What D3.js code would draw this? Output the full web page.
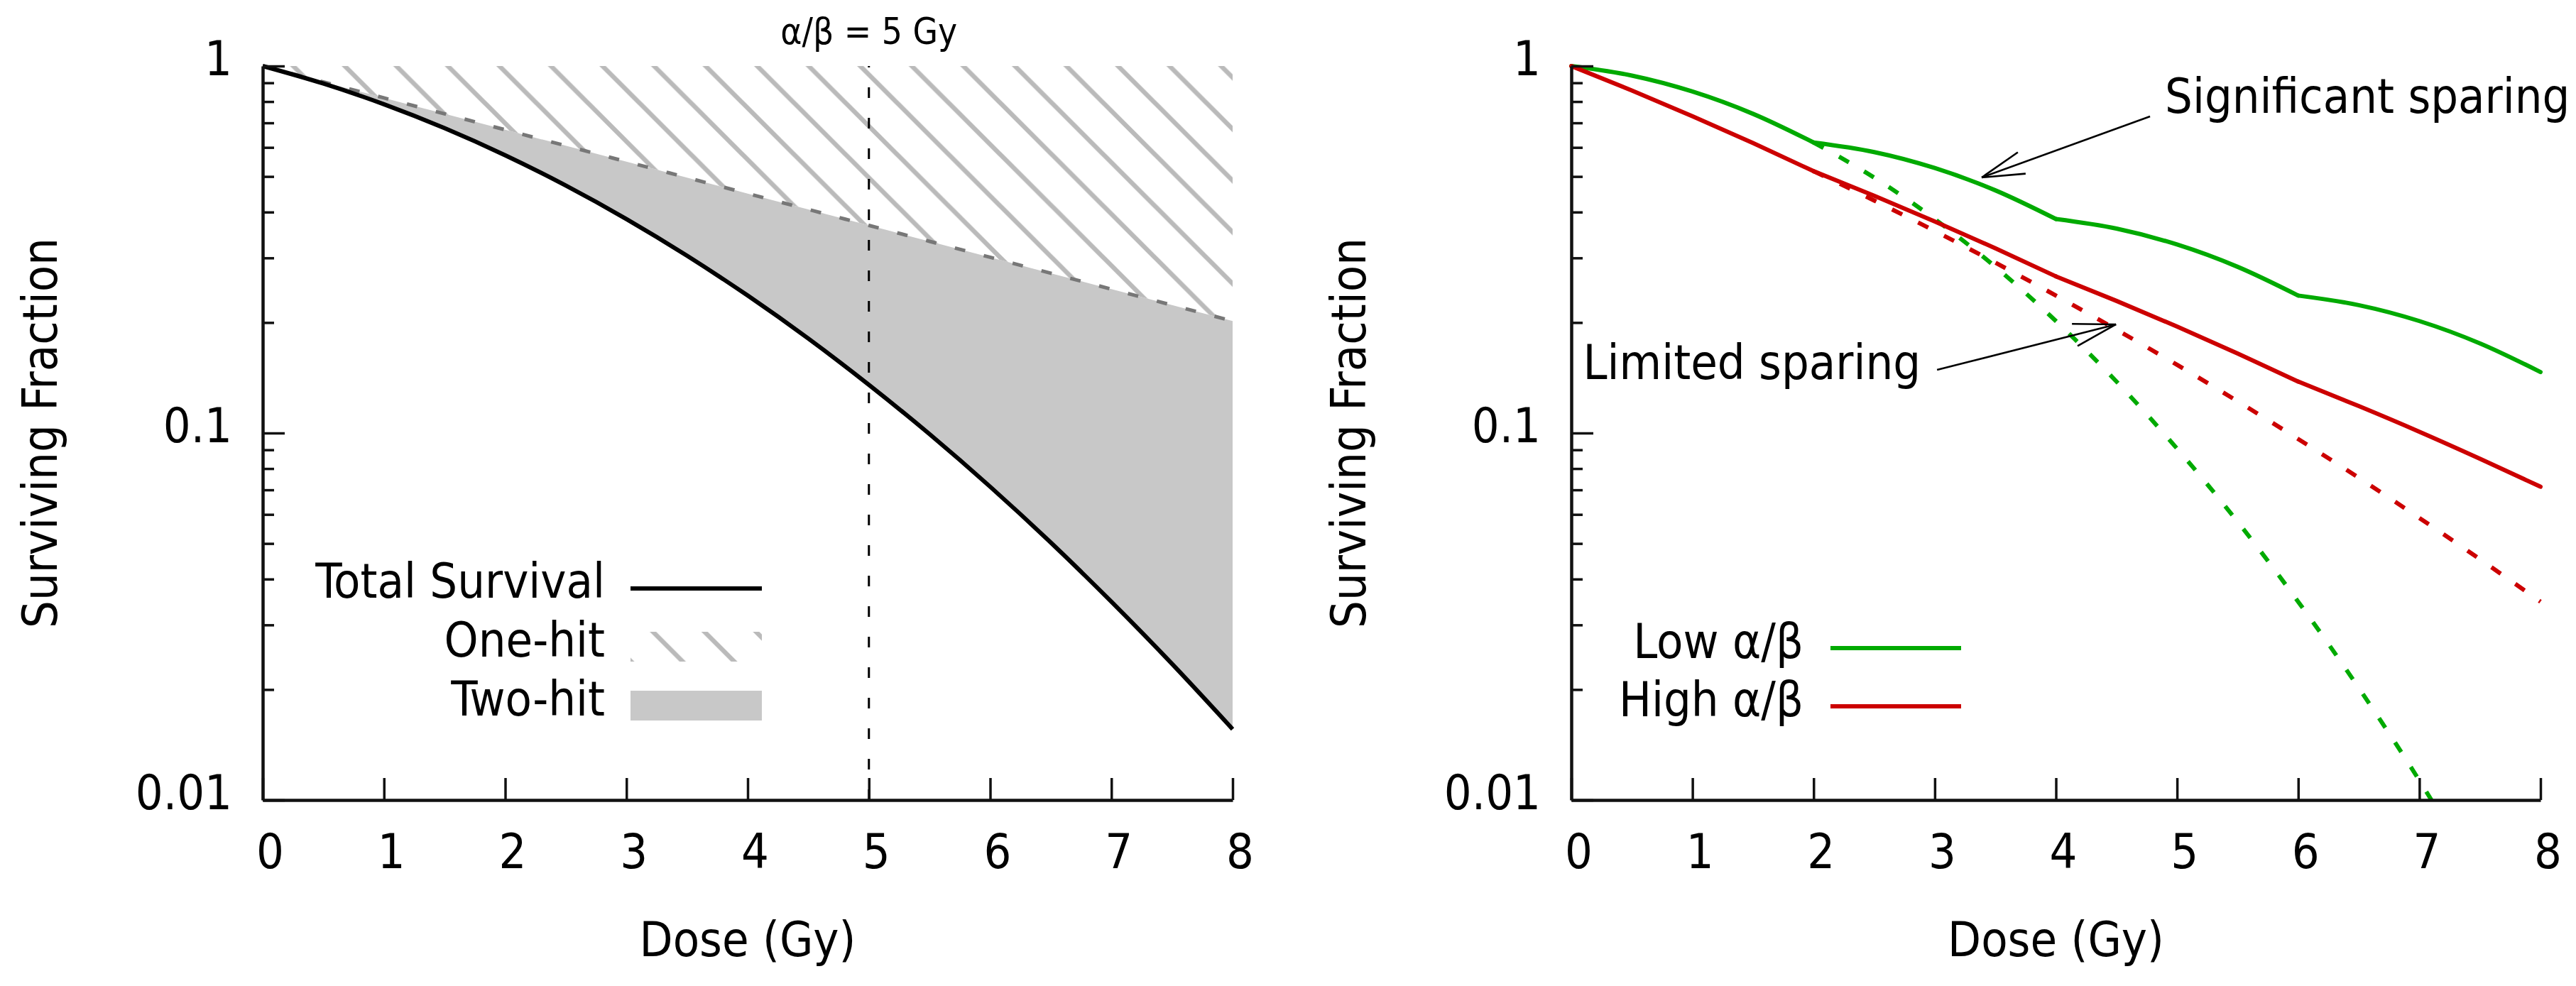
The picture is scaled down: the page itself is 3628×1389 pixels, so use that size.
<!DOCTYPE html>
<html><head><meta charset="utf-8">
<script src="https://cdn.jsdelivr.net/npm/d3@7"></script>
<style>
html,body{margin:0;padding:0;background:#fff;}
svg text{font-family:'DejaVu Sans Condensed','DejaVu Sans',sans-serif;font-stretch:condensed;fill:#000;}
</style></head><body>
<svg id="chart" width="3628" height="1389"></svg>
<script>
// ---------- data ----------
const doseTicks = [0,1,2,3,4,5,6,7,8];
const sfMajorTicks = [0.01,0.1,1];
const sfMajorLabels = ["0.01","0.1","1"];
const sfMinorTicks = [0.02,0.03,0.04,0.05,0.06,0.07,0.08,0.09,0.2,0.3,0.4,0.5,0.6,0.7,0.8,0.9];

// left panel (alpha/beta = 5 Gy)
const doseLeft = [0,0.5,1,1.5,2,2.5,3,3.5,4,4.5,5,5.5,6,6.5,7,7.5,8];
const totalSurvival = [1,0.8958,0.7866,0.6771,0.5712,0.4724,0.3829,0.3042,0.2369,0.1809,0.1353,0.0993,0.0714,0.0503,0.0347,0.0235,0.0156];
const oneHit = [1,0.9048,0.8187,0.7408,0.6703,0.6065,0.5488,0.4966,0.4493,0.4066,0.3679,0.3329,0.3012,0.2725,0.2466,0.2231,0.2019];
const alphaBetaDose = 5;
const leftLegend = ["Total Survival","One-hit","Two-hit"];

// right panel
const doseFrac = [0,0.5,1,1.5,2,2.5,3,3.5,4,4.5,5,5.5,6,6.5,7,7.5,8];
const lowFrac  = [1,0.9418,0.8521,0.7408,0.6188,0.5828,0.5273,0.4584,0.3829,0.3606,0.3263,0.2837,0.2369,0.2231,0.2019,0.1755,0.1466];
const highFrac = [1,0.8575,0.7298,0.6165,0.5169,0.4432,0.3772,0.3187,0.2672,0.2291,0.1950,0.1647,0.1381,0.1184,0.1008,0.0851,0.0714];
const doseSingleLow = [2,2.5,3,3.5,4,4.5,5,5.5,6,6.5,7,7.1];
const lowSingle = [0.6188,0.4966,0.3829,0.2837,0.2019,0.1381,0.0907,0.0573,0.0347,0.0202,0.0113,0.0100];
const doseSingleHigh = [2,2.5,3,3.5,4,4.5,5,5.5,6,6.5,7,7.5,8];
const highSingle = [0.5169,0.4301,0.3552,0.2912,0.2369,0.1913,0.1534,0.1220,0.0963,0.0755,0.0587,0.0453,0.0347];
const fractionBreaks = [2,4,6];
const rightLegend = ["Low α/β","High α/β"];

// ---------- layout / style ----------
const FS = 68;
const svg = d3.select("#chart");
svg.append("rect").attr("width",3628).attr("height",1389).attr("fill","#fff");
const yRange = [1127, 93];
const xL = d3.scaleLinear().domain([0,8]).range([370,1736]);
const xR = d3.scaleLinear().domain([0,8]).range([2213,3578]);
const yL = d3.scaleLog().domain([0.01,1]).range(yRange);
const yR = d3.scaleLog().domain([0.01,1]).range(yRange);

const GREEN = "#00aa00", RED = "#cc0000", FILL = "#c8c8c8", HATCH = "#bababa";

// hatch pattern
const W = 72.6;
const defs = svg.append("defs");
const pat = defs.append("pattern").attr("id","hatch").attr("patternUnits","userSpaceOnUse")
  .attr("x",29.6).attr("y",0).attr("width",W).attr("height",W);
pat.append("path")
  .attr("d",`M-10,-10L${W+10},${W+10}M${W-10},-10L${W+10},10M-10,${W-10}L10,${W+10}`)
  .attr("stroke",HATCH).attr("stroke-width",6.5).attr("fill","none");

function drawAxes(x, y){
  const g = svg.append("g");
  const xa = g.append("g").attr("transform",`translate(0,${y.range()[0]})`)
    .call(d3.axisBottom(x).tickValues(doseTicks).tickSize(-31).tickSizeOuter(0).tickPadding(48).tickFormat(d3.format("d")));
  const ya = g.append("g").attr("transform",`translate(${x.range()[0]},0)`)
    .call(d3.axisLeft(y).tickValues(sfMajorTicks).tickSize(-31).tickSizeOuter(0).tickPadding(43).tickFormat((d,i)=>sfMajorLabels[i]));
  const ym = g.append("g").attr("transform",`translate(${x.range()[0]},0)`)
    .call(d3.axisLeft(y).tickValues(sfMinorTicks).tickSize(-16).tickSizeOuter(0).tickFormat(""));
  ym.select(".domain").remove();
  [xa,ya,ym].forEach(a=>{
    a.attr("font-family",null).attr("font-size",null);
    a.select(".domain").attr("stroke","#111").attr("stroke-width",4.5);
    a.selectAll(".tick line").attr("stroke","#111").attr("stroke-width",3.5);
    a.selectAll(".tick text").attr("font-size",FS).attr("fill","#000");
  });
  xa.selectAll(".tick text").attr("dx",10);
  ya.selectAll(".tick text").attr("y",-9);
  // axis titles
  svg.append("text").attr("x",(x.range()[0]+x.range()[1])/2).attr("y",1347)
    .attr("text-anchor","middle").attr("font-size",FS).text("Dose (Gy)");
  svg.append("text").attr("transform",`translate(${x.range()[0]-290},${(y.range()[0]+y.range()[1])/2}) rotate(-90)`)
    .attr("text-anchor","middle").attr("font-size",FS).text("Surviving Fraction");
}

// ---------- left panel ----------
const leftPts = doseLeft.map((d,i)=>({d, t: totalSurvival[i], o: oneHit[i]}));
svg.append("path").datum(leftPts)
  .attr("d", d3.area().x(p=>xL(p.d)).y0(p=>yL(p.o)).y1(p=>yL(p.t)).curve(d3.curveMonotoneX))
  .attr("fill",FILL);
svg.append("path").datum(leftPts)
  .attr("d", d3.area().x(p=>xL(p.d)).y0(()=>yL(1)).y1(p=>yL(p.o)).curve(d3.curveMonotoneX))
  .attr("fill","url(#hatch)");
svg.append("path").datum(leftPts)
  .attr("d", d3.line().x(p=>xL(p.d)).y(p=>yL(p.o)).curve(d3.curveMonotoneX))
  .attr("fill","none").attr("stroke","#777").attr("stroke-width",5).attr("stroke-dasharray","15,27");
svg.append("path").datum(leftPts)
  .attr("d", d3.line().x(p=>xL(p.d)).y(p=>yL(p.t)).curve(d3.curveMonotoneX))
  .attr("fill","none").attr("stroke","#000").attr("stroke-width",6);
// alpha/beta marker
svg.append("line").attr("x1",xL(alphaBetaDose)).attr("x2",xL(alphaBetaDose))
  .attr("y1",yL(0.01)).attr("y2",yL(1))
  .attr("stroke","#000").attr("stroke-width",3).attr("stroke-dasharray","15,28");
svg.append("text").attr("x",xL(alphaBetaDose)).attr("y",62).attr("text-anchor","middle")
  .attr("font-size",51).text(`α/β = ${alphaBetaDose} Gy`);
drawAxes(xL,yL);

// left legend
const lgL = svg.append("g");
const lgBase = [842,925,1008];
leftLegend.forEach((t,i)=>{
  lgL.append("text").attr("x",852).attr("y",lgBase[i]).attr("text-anchor","end").attr("font-size",FS).text(t);
});
lgL.append("line").attr("x1",888).attr("x2",1073).attr("y1",lgBase[0]-13).attr("y2",lgBase[0]-13)
  .attr("stroke","#000").attr("stroke-width",6);
lgL.append("rect").attr("x",888).attr("y",lgBase[1]-35).attr("width",185).attr("height",42).attr("fill","url(#hatch)");
lgL.append("rect").attr("x",888).attr("y",lgBase[2]-35).attr("width",185).attr("height",42).attr("fill",FILL);

// ---------- right panel ----------
function segments(doses, vals, breaks){
  const edges = [d3.min(doses), ...breaks, d3.max(doses)];
  const pts = doses.map((d,i)=>({d, v: vals[i]}));
  return d3.pairs(edges).map(([a,b])=>pts.filter(p=>p.d>=a && p.d<=b));
}
const lineR = d3.line().x(p=>xR(p.d)).y(p=>yR(p.v)).curve(d3.curveMonotoneX);
const single = (doses, vals)=>doses.map((d,i)=>({d, v: vals[i]}));

svg.append("path").datum(single(doseSingleHigh, highSingle)).attr("d",lineR)
  .attr("fill","none").attr("stroke",RED).attr("stroke-width",6).attr("stroke-dasharray","16,25");
svg.append("path").datum(single(doseSingleLow, lowSingle)).attr("d",lineR)
  .attr("fill","none").attr("stroke",GREEN).attr("stroke-width",6).attr("stroke-dasharray","16,25");
[[lowFrac,GREEN],[highFrac,RED]].forEach(([vals,col])=>{
  segments(doseFrac, vals, fractionBreaks).forEach(seg=>{
    svg.append("path").datum(seg).attr("d",lineR).attr("fill","none")
      .attr("stroke",col).attr("stroke-width",6).attr("stroke-linecap","round");
  });
});
drawAxes(xR,yR);

// right legend
const lgR = svg.append("g");
const lgRBase = [927,1009];
[[rightLegend[0],GREEN],[rightLegend[1],RED]].forEach(([t,c],i)=>{
  lgR.append("text").attr("x",2540).attr("y",lgRBase[i]).attr("text-anchor","end").attr("font-size",FS).text(t);
  lgR.append("line").attr("x1",2578).attr("x2",2762).attr("y1",lgRBase[i]-14).attr("y2",lgRBase[i]-14)
    .attr("stroke",c).attr("stroke-width",6);
});

// annotations (positions in data units)
const annotations = [
  {text:"Significant sparing", at:[4.90,0.745], anchor:"start", from:[4.777,0.729], to:[3.388,0.497]},
  {text:"Limited sparing", at:[2.884,0.1403], anchor:"end", from:[3.019,0.1486], to:[4.496,0.1977]}
];
annotations.forEach(a=>{
  svg.append("text").attr("x",xR(a.at[0])).attr("y",yR(a.at[1])).attr("text-anchor",a.anchor)
    .attr("font-size",FS).text(a.text);
  const x1=xR(a.from[0]), y1=yR(a.from[1]), x2=xR(a.to[0]), y2=yR(a.to[1]);
  const g = svg.append("g").attr("stroke","#000").attr("stroke-width",2.6).attr("fill","none");
  g.append("line").attr("x1",x1).attr("y1",y1).attr("x2",x2).attr("y2",y2);
  const ang = Math.atan2(y1-y2, x1-x2), L = 62, h = 15*Math.PI/180;
  [ang-h, ang+h].forEach(t=>{
    g.append("line").attr("x1",x2).attr("y1",y2).attr("x2",x2+L*Math.cos(t)).attr("y2",y2+L*Math.sin(t));
  });
});
</script>
</body></html>
